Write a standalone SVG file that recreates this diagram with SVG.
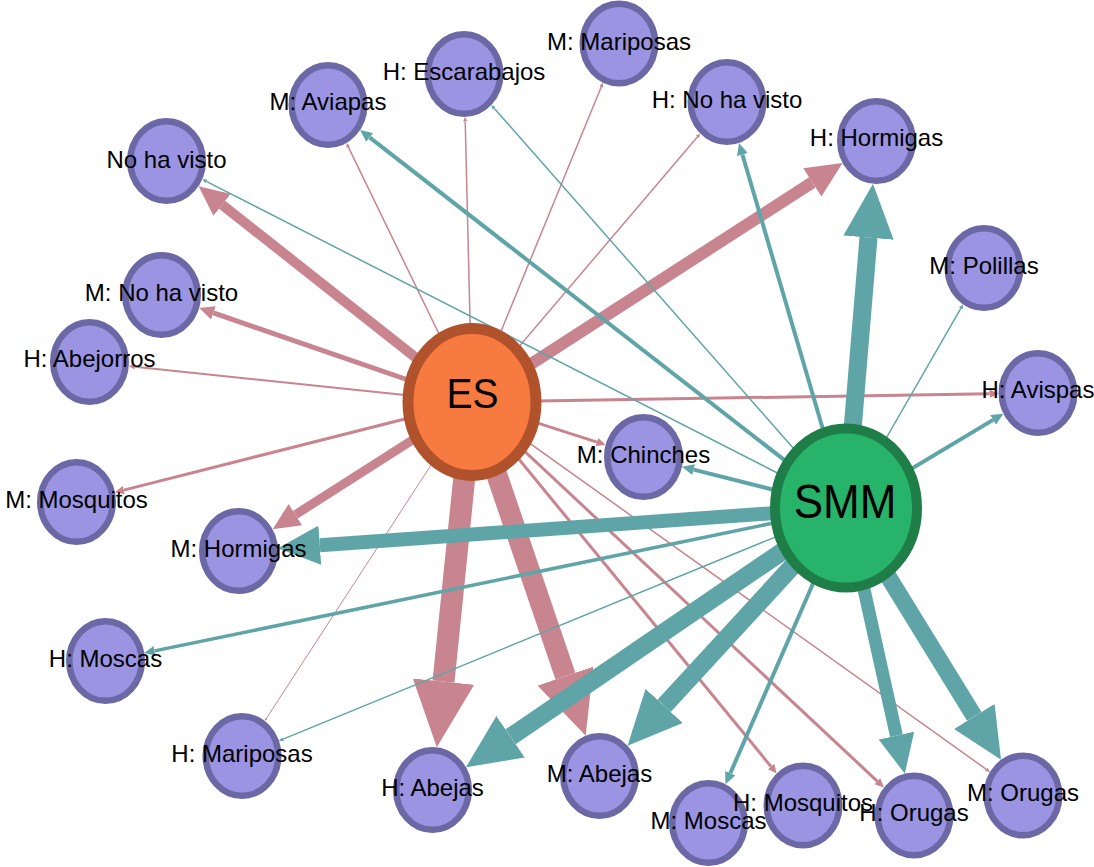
<svg xmlns="http://www.w3.org/2000/svg" width="1094" height="867" viewBox="0 0 1094 867">
<style>
.lbl{font-family:"Liberation Sans",Arial,sans-serif;font-size:24px;fill:#000;text-anchor:middle}
.big{font-family:"Liberation Sans",Arial,sans-serif;fill:#000;text-anchor:middle}
.n ellipse{fill:#9A94E3;stroke:#6C68A6;stroke-width:6.5}
.ep{stroke:#C8848F;fill:none;marker-end:url(#ap)}
.et{stroke:#5FA5A8;fill:none;marker-end:url(#at)}
</style>
<defs>
<marker id="ap" viewBox="0 -1.4 3 2.8" refX="0" refY="0" markerWidth="3" markerHeight="2.8" markerUnits="strokeWidth" orient="auto"><path d="M0,-1.4L3,0L0,1.4z" fill="#C8848F"/></marker>
<marker id="at" viewBox="0 -1.4 3 2.8" refX="0" refY="0" markerWidth="3" markerHeight="2.8" markerUnits="strokeWidth" orient="auto"><path d="M0,-1.4L3,0L0,1.4z" fill="#5FA5A8"/></marker>
</defs>
<rect width="1094" height="867" fill="#fff"/>
<g id="edges">
<line class="ep" x1="472" y1="402" x2="222.1" y2="204.8" stroke-width="10"/>
<line class="ep" x1="472" y1="402" x2="213.4" y2="312.9" stroke-width="5"/>
<line class="ep" x1="472" y1="402" x2="134.8" y2="366.7" stroke-width="2"/>
<line class="ep" x1="472" y1="402" x2="123.7" y2="490.1" stroke-width="3"/>
<line class="ep" x1="472" y1="402" x2="295.4" y2="514.7" stroke-width="9"/>
<line class="ep" x1="472" y1="402" x2="443.5" y2="681.6" stroke-width="22"/>
<line class="ep" x1="472" y1="402" x2="565.4" y2="676.1" stroke-width="21"/>
<line class="ep" x1="472" y1="402" x2="266.4" y2="718.4" stroke-width="1"/>
<line class="ep" x1="472" y1="402" x2="348.4" y2="147.1" stroke-width="1.5"/>
<line class="ep" x1="472" y1="402" x2="465.2" y2="121.5" stroke-width="1.5"/>
<line class="ep" x1="472" y1="402" x2="601.2" y2="87" stroke-width="1.5"/>
<line class="ep" x1="472" y1="402" x2="697.3" y2="137" stroke-width="1.5"/>
<line class="ep" x1="472" y1="402" x2="812.3" y2="182.4" stroke-width="12"/>
<line class="ep" x1="472" y1="402" x2="989.5" y2="393.8" stroke-width="3"/>
<line class="ep" x1="472" y1="402" x2="597" y2="442.1" stroke-width="3"/>
<line class="ep" x1="472" y1="402" x2="771" y2="766.5" stroke-width="3"/>
<line class="ep" x1="472" y1="402" x2="877.4" y2="781.3" stroke-width="3"/>
<line class="ep" x1="472" y1="402" x2="986.3" y2="769.3" stroke-width="1.5"/>
<line class="et" x1="846" y1="508" x2="868.5" y2="237.6" stroke-width="18"/>
<line class="et" x1="846" y1="508" x2="742.4" y2="154.5" stroke-width="4"/>
<line class="et" x1="846" y1="508" x2="369.6" y2="137.4" stroke-width="4"/>
<line class="et" x1="846" y1="508" x2="494.3" y2="108.4" stroke-width="1.5"/>
<line class="et" x1="846" y1="508" x2="206.3" y2="181.3" stroke-width="1.5"/>
<line class="et" x1="846" y1="508" x2="960.8" y2="308.4" stroke-width="1.5"/>
<line class="et" x1="846" y1="508" x2="993.1" y2="419.9" stroke-width="4"/>
<line class="et" x1="846" y1="508" x2="693.6" y2="469.6" stroke-width="4"/>
<line class="et" x1="846" y1="508" x2="319.8" y2="545.2" stroke-width="14"/>
<line class="et" x1="846" y1="508" x2="154.6" y2="650.9" stroke-width="3.5"/>
<line class="et" x1="846" y1="508" x2="283.1" y2="739.1" stroke-width="1.5"/>
<line class="et" x1="846" y1="508" x2="510.6" y2="736.8" stroke-width="18"/>
<line class="et" x1="846" y1="508" x2="664.1" y2="705.9" stroke-width="18"/>
<line class="et" x1="846" y1="508" x2="730.3" y2="773.2" stroke-width="4"/>
<line class="et" x1="846" y1="508" x2="896.4" y2="735.6" stroke-width="13"/>
<line class="et" x1="846" y1="508" x2="974.3" y2="716.4" stroke-width="17"/>
</g>
<g id="node-es"><ellipse cx="472" cy="402" rx="64" ry="73.5" fill="#F77B40" stroke="#B0532C" stroke-width="11"/><text class="big" font-size="39" transform="translate(472.5 407.7) scale(1 1.08)">ES</text></g>
<g id="node-smm"><ellipse cx="846" cy="508" rx="71" ry="79.5" fill="#27B46A" stroke="#1F7D47" stroke-width="10"/><text class="big" font-size="44" transform="translate(845 518.3) scale(1 1.11)">SMM</text></g>
<g id="node-m-mariposas" class="n"><ellipse cx="619" cy="43.5" rx="36.25" ry="39.75"/><text class="lbl" x="619" y="49.5">M: Mariposas</text></g>
<g id="node-h-escarabajos" class="n"><ellipse cx="464" cy="74" rx="36.25" ry="39.75"/><text class="lbl" x="464" y="80">H: Escarabajos</text></g>
<g id="node-m-aviapas" class="n"><ellipse cx="328" cy="105" rx="36.25" ry="39.75"/><text class="lbl" x="328" y="110">M: Aviapas</text></g>
<g id="node-h-no-ha-visto" class="n"><ellipse cx="727" cy="102" rx="36.25" ry="39.75"/><text class="lbl" x="727" y="108">H: No ha visto</text></g>
<g id="node-h-hormigas" class="n"><ellipse cx="876.5" cy="141" rx="36.25" ry="39.75"/><text class="lbl" x="876.5" y="146">H: Hormigas</text></g>
<g id="node-no-ha-visto" class="n"><ellipse cx="166.5" cy="161" rx="36.25" ry="39.75"/><text class="lbl" x="166.5" y="168">No ha visto</text></g>
<g id="node-m-polillas" class="n"><ellipse cx="984" cy="268" rx="36.25" ry="39.75"/><text class="lbl" x="984" y="274">M: Polillas</text></g>
<g id="node-m-no-ha-visto" class="n"><ellipse cx="161.5" cy="295" rx="36.25" ry="39.75"/><text class="lbl" x="161.5" y="301">M: No ha visto</text></g>
<g id="node-h-abejorros" class="n"><ellipse cx="89.5" cy="362" rx="36.25" ry="39.75"/><text class="lbl" x="89.5" y="367">H: Abejorros</text></g>
<g id="node-h-avispas" class="n"><ellipse cx="1038" cy="393" rx="36.25" ry="39.75"/><text class="lbl" x="1038" y="398">H: Avispas</text></g>
<g id="node-m-chinches" class="n"><ellipse cx="643.5" cy="457" rx="36.25" ry="39.75"/><text class="lbl" x="643.5" y="463">M: Chinches</text></g>
<g id="node-m-mosquitos" class="n"><ellipse cx="76.5" cy="502" rx="36.25" ry="39.75"/><text class="lbl" x="76.5" y="508">M: Mosquitos</text></g>
<g id="node-m-hormigas" class="n"><ellipse cx="238.5" cy="551" rx="36.25" ry="39.75"/><text class="lbl" x="238.5" y="557">M: Hormigas</text></g>
<g id="node-h-moscas" class="n"><ellipse cx="105.5" cy="661" rx="36.25" ry="39.75"/><text class="lbl" x="105.5" y="667">H: Moscas</text></g>
<g id="node-h-mariposas" class="n"><ellipse cx="242" cy="756" rx="36.25" ry="39.75"/><text class="lbl" x="242" y="762">H: Mariposas</text></g>
<g id="node-h-abejas" class="n"><ellipse cx="432.5" cy="790" rx="36.25" ry="39.75"/><text class="lbl" x="432.5" y="796">H: Abejas</text></g>
<g id="node-m-abejas" class="n"><ellipse cx="599.5" cy="776" rx="36.25" ry="39.75"/><text class="lbl" x="599.5" y="782">M: Abejas</text></g>
<g id="node-m-moscas" class="n"><ellipse cx="708.5" cy="823" rx="36.25" ry="39.75"/><text class="lbl" x="708.5" y="829">M: Moscas</text></g>
<g id="node-h-mosquitos" class="n"><ellipse cx="803" cy="805.5" rx="36.25" ry="39.75"/><text class="lbl" x="803" y="811">H: Mosquitos</text></g>
<g id="node-h-orugas" class="n"><ellipse cx="914" cy="815.5" rx="36.25" ry="39.75"/><text class="lbl" x="914" y="821">H: Orugas</text></g>
<g id="node-m-orugas" class="n"><ellipse cx="1023" cy="795.5" rx="36.25" ry="39.75"/><text class="lbl" x="1023" y="801">M: Orugas</text></g>
</svg>
